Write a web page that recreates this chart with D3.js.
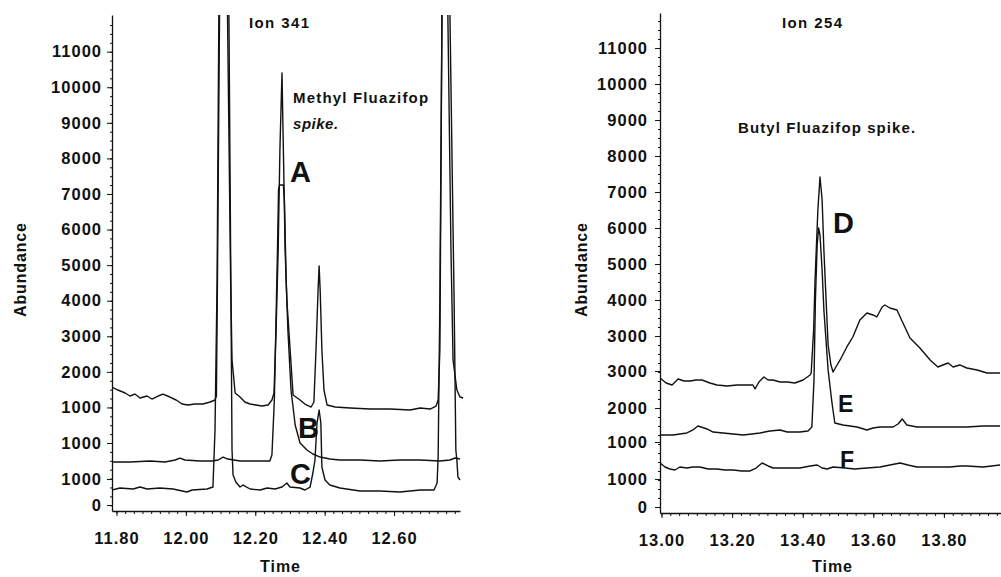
<!DOCTYPE html>
<html>
<head>
<meta charset="utf-8">
<script src="https://cdn.jsdelivr.net/npm/d3@7"></script>
<style>
  body { margin: 0; background: #fff; }
  text { font-family: "Liberation Sans", Arial, sans-serif; fill: #111; }
  .tick text { font-weight: bold; font-size: 16.5px; letter-spacing: 1px; }
  .domain, .tick line { stroke: #111; }
  .trace { fill: none; stroke: #111; stroke-width: 1.4; stroke-linejoin: round; }
</style>
</head>
<body>
<svg id="chart" width="1001" height="577"></svg>
<script>
// Time ticks
var leftTimeTicks = [11.8, 12.0, 12.2, 12.4, 12.6];
var rightTimeTicks = [13.0, 13.2, 13.4, 13.6, 13.8];

// Abundance ticks: the traces are stacked, so the labels repeat
var leftAbundTicks = [-1743, -1012, 0, 1000, 2000, 3000, 4000, 5000, 6000, 7000, 8000, 9000, 10000, 11000];
var leftAbundLabels = ["0", "1000", "1000", "1000", "2000", "3000", "4000", "5000", "6000", "7000", "8000", "9000", "10000", "11000"];
var rightAbundTicks = [-1750, -972, 56, 1000, 2028, 3000, 4000, 5000, 6000, 7000, 8000, 9000, 10000, 11000];
var rightAbundLabels = ["0", "1000", "1000", "2000", "3000", "3000", "4000", "5000", "6000", "7000", "8000", "9000", "10000", "11000"];

// Ion 341 traces [time, abundance]
var traceA = [[11.787,1574],[11.804,1490],[11.825,1406],[11.839,1321],[11.853,1377],[11.868,1265],[11.888,1321],[11.902,1237],[11.920,1321],[11.934,1377],[11.954,1293],[11.972,1209],[11.989,1096],[12.006,1068],[12.026,1096],[12.049,1096],[12.070,1153],[12.084,1209],[12.088,1321],[12.091,4582],[12.097,12031],[12.107,20000],[12.120,12031],[12.129,4582],[12.133,2333],[12.142,1406],[12.156,1293],[12.170,1153],[12.185,1096],[12.202,1068],[12.219,1040],[12.237,1068],[12.248,1209],[12.254,1406],[12.260,3176],[12.266,5425],[12.271,8236],[12.277,10400],[12.281,8236],[12.286,5425],[12.291,4020],[12.309,1349],[12.329,1209],[12.343,1096],[12.361,1012],[12.369,1153],[12.375,2614],[12.381,4301],[12.384,4975],[12.387,4301],[12.392,2614],[12.398,1490],[12.407,1068],[12.430,1012],[12.473,984],[12.531,956],[12.588,956],[12.646,928],[12.675,984],[12.704,956],[12.721,1040],[12.727,1209],[12.732,2614],[12.738,12031],[12.747,20000],[12.755,12031],[12.764,5425],[12.770,2333],[12.781,1490],[12.790,1293],[12.799,1265]];
var traceB = [[11.787,-534],[11.839,-534],[11.897,-506],[11.940,-534],[11.969,-478],[11.983,-422],[11.997,-478],[12.041,-506],[12.075,-506],[12.093,-478],[12.107,-394],[12.121,-450],[12.156,-506],[12.199,-506],[12.242,-506],[12.248,-337],[12.255,1209],[12.261,4020],[12.264,5425],[12.267,7112],[12.270,7252],[12.281,7252],[12.284,6831],[12.289,4582],[12.294,3176],[12.303,1490],[12.315,506],[12.329,0],[12.349,-197],[12.366,-309],[12.387,-394],[12.415,-450],[12.444,-478],[12.502,-478],[12.559,-506],[12.617,-478],[12.675,-478],[12.732,-506],[12.761,-478],[12.776,-422],[12.790,-450]];
var traceC = [[11.787,-1321],[11.810,-1265],[11.848,-1293],[11.868,-1237],[11.888,-1293],[11.925,-1265],[11.963,-1293],[12.003,-1377],[12.018,-1321],[12.061,-1293],[12.078,-1237],[12.084,365],[12.090,4582],[12.095,12031],[12.108,20000],[12.124,12031],[12.130,4020],[12.133,-197],[12.136,-900],[12.144,-1096],[12.156,-1237],[12.165,-1181],[12.185,-1293],[12.214,-1321],[12.234,-1265],[12.257,-1293],[12.277,-1237],[12.291,-1124],[12.300,-1237],[12.329,-1265],[12.343,-1321],[12.358,-1237],[12.366,-843],[12.372,-478],[12.378,562],[12.384,928],[12.389,562],[12.392,-675],[12.401,-1040],[12.415,-1181],[12.444,-1265],[12.502,-1349],[12.559,-1349],[12.617,-1377],[12.675,-1321],[12.715,-1321],[12.724,-1124],[12.727,-394],[12.732,4020],[12.738,12031],[12.748,20000],[12.761,12031],[12.773,4020],[12.778,-197],[12.781,-478],[12.784,-956],[12.790,-1040]];

// Ion 254 traces [time, abundance]
var traceD = [[12.996,1833],[13.013,1695],[13.030,1639],[13.047,1806],[13.064,1750],[13.081,1750],[13.098,1778],[13.115,1778],[13.137,1695],[13.157,1639],[13.186,1611],[13.214,1639],[13.242,1639],[13.259,1639],[13.265,1528],[13.276,1722],[13.290,1861],[13.302,1778],[13.316,1778],[13.336,1722],[13.356,1722],[13.378,1695],[13.401,1778],[13.421,1917],[13.424,1972],[13.431,3167],[13.435,4556],[13.443,6500],[13.449,7417],[13.455,6778],[13.460,5389],[13.465,4278],[13.472,2750],[13.480,2195],[13.486,2000],[13.494,2139],[13.506,2334],[13.525,2695],[13.542,2972],[13.562,3445],[13.582,3639],[13.599,3584],[13.610,3528],[13.625,3806],[13.633,3861],[13.647,3778],[13.667,3722],[13.684,3361],[13.704,2945],[13.732,2667],[13.761,2334],[13.783,2139],[13.797,2195],[13.812,2250],[13.826,2139],[13.845,2195],[13.865,2111],[13.894,2056],[13.922,1972],[13.959,1972]];
var traceE = [[12.996,250],[13.016,250],[13.033,250],[13.052,278],[13.072,306],[13.089,389],[13.103,500],[13.112,472],[13.129,417],[13.146,333],[13.174,306],[13.203,278],[13.231,250],[13.256,278],[13.279,306],[13.307,361],[13.336,389],[13.356,333],[13.392,333],[13.415,361],[13.426,472],[13.432,1778],[13.436,4000],[13.441,5528],[13.445,6000],[13.449,5806],[13.455,4834],[13.460,3722],[13.472,2056],[13.483,1139],[13.491,583],[13.514,528],[13.534,500],[13.554,472],[13.582,389],[13.599,444],[13.619,472],[13.656,472],[13.670,556],[13.682,695],[13.695,528],[13.724,472],[13.769,472],[13.817,472],[13.865,472],[13.911,500],[13.959,500]];
var traceF = [[12.996,-528],[13.010,-639],[13.024,-695],[13.038,-722],[13.052,-639],[13.072,-667],[13.089,-639],[13.109,-639],[13.132,-695],[13.157,-695],[13.180,-722],[13.203,-722],[13.228,-750],[13.251,-750],[13.268,-667],[13.285,-528],[13.302,-611],[13.316,-667],[13.350,-667],[13.392,-667],[13.421,-611],[13.441,-583],[13.455,-667],[13.469,-695],[13.486,-639],[13.520,-667],[13.547,-695],[13.582,-667],[13.619,-639],[13.647,-583],[13.676,-528],[13.698,-583],[13.724,-639],[13.769,-639],[13.817,-639],[13.846,-611],[13.865,-611],[13.911,-639],[13.959,-583]];

// Annotations anchored in data units
var leftNotes = [
  {text: "Methyl Fluazifop", t: 12.309, v: 9557, cls: "note"},
  {text: "spike.", t: 12.309, v: 8827, cls: "note-it"},
  {text: "A", t: 12.300, v: 7337, cls: "big"},
  {text: "B", t: 12.323, v: 141, cls: "big"},
  {text: "C", t: 12.300, v: -1153, cls: "big"}
];
var rightNotes = [
  {text: "Butyl Fluazifop spike.", t: 13.217, v: 8640, cls: "note"},
  {text: "D", t: 13.486, v: 5862, cls: "big"},
  {text: "E", t: 13.500, v: 889, cls: "mid"},
  {text: "F", t: 13.506, v: -667, cls: "mid"}
];

var svg = d3.select("#chart");

var panels = [
  {
    id: "left", title: "Ion 341",
    xDomain: [11.7871, 12.79], xRange: [112, 460],
    yDomain: [-1911, 12031], yRange: [511, 15],
    timeTicks: leftTimeTicks, abundTicks: leftAbundTicks, abundLabels: leftAbundLabels,
    traces: [traceA, traceB, traceC], notes: leftNotes,
    titleX: 279, yTitleX: 20, xTitleX: 280, padY: 5
  },
  {
    id: "right", title: "Ion 254",
    xDomain: [12.99575, 13.96176], xRange: [660, 1001],
    yDomain: [-1917, 11973], yRange: [513, 13],
    timeTicks: rightTimeTicks, abundTicks: rightAbundTicks, abundLabels: rightAbundLabels,
    traces: [traceD, traceE, traceF], notes: rightNotes,
    titleX: 812, yTitleX: 581, xTitleX: 832, padY: 7
  }
];

panels.forEach(function(p) {
  var x = d3.scaleLinear().domain(p.xDomain).range(p.xRange);
  var y = d3.scaleLinear().domain(p.yDomain).range(p.yRange);
  var g = svg.append("g");

  // clip the off-scale peaks at the top of the axis
  svg.append("clipPath").attr("id", "clip-" + p.id)
    .append("rect")
    .attr("x", p.xRange[0]).attr("y", p.yRange[1])
    .attr("width", 1001 - p.xRange[0]).attr("height", p.yRange[0] - p.yRange[1]);

  // minor ticks
  var first = Math.ceil(p.xDomain[0] / 0.025);
  var minorX = d3.range(first, Math.floor(p.xDomain[1] / 0.025) + 1).map(function(k) { return k * 0.025; });
  g.append("g")
    .attr("transform", `translate(0, ${p.yRange[0]})`)
    .call(d3.axisBottom(x).tickValues(minorX).tickSize(3).tickFormat(""))
    .call(function(s) { s.select(".domain").remove(); });

  g.append("g")
    .attr("transform", `translate(${p.xRange[0]}, 0)`)
    .call(d3.axisLeft(y).tickValues(d3.range(-1750, 12000, 250)).tickSize(2).tickFormat(""))
    .call(function(s) { s.select(".domain").remove(); });

  // main axes
  g.append("g")
    .attr("transform", `translate(0, ${p.yRange[0]})`)
    .call(d3.axisBottom(x).tickValues(p.timeTicks).tickFormat(d3.format(".2f"))
      .tickSize(5).tickSizeOuter(0).tickPadding(16))
    .call(function(s) { s.select(".domain").attr("stroke-width", 1.3); });

  g.append("g")
    .attr("transform", `translate(${p.xRange[0]}, 0)`)
    .call(d3.axisLeft(y).tickValues(p.abundTicks).tickFormat(function(d, i) { return p.abundLabels[i]; })
      .tickSize(5).tickSizeOuter(0).tickPadding(p.padY))
    .call(function(s) { s.select(".domain").attr("stroke-width", 1.3); });

  // traces
  var line = d3.line().x(function(d) { return x(d[0]); }).y(function(d) { return y(d[1]); });
  g.append("g").attr("clip-path", `url(#clip-${p.id})`)
    .selectAll("path")
    .data(p.traces)
    .enter()
    .append("path")
    .attr("class", "trace")
    .attr("d", line);

  // titles
  g.append("text")
    .attr("x", p.titleX).attr("y", 28)
    .attr("text-anchor", "middle")
    .style("font-size", "15px").style("font-weight", "bold")
    .attr("textLength", 60)
    .text(p.title);

  g.append("text")
    .attr("transform", `translate(${p.yTitleX + 6}, 270) rotate(-90)`)
    .attr("text-anchor", "middle")
    .style("font-size", "16px").style("font-weight", "bold")
    .attr("textLength", 94)
    .text("Abundance");

  g.append("text")
    .attr("x", p.xTitleX).attr("y", 572)
    .attr("text-anchor", "middle")
    .style("font-size", "16px").style("font-weight", "bold")
    .attr("textLength", 40)
    .text("Time");

  // annotations
  g.selectAll(".ann")
    .data(p.notes)
    .enter()
    .append("text")
    .attr("x", function(d) { return x(d.t); })
    .attr("y", function(d) { return y(d.v); })
    .style("font-size", function(d) { return d.cls === "big" ? "29px" : d.cls === "mid" ? "23px" : "15px"; })
    .style("font-weight", "bold")
    .style("font-style", function(d) { return d.cls === "note-it" ? "italic" : "normal"; })
    .attr("textLength", function(d) {
      return d.text === "Methyl Fluazifop" ? 135 : d.text === "Butyl Fluazifop spike." ? 177 : d.text === "spike." ? 45 : null;
    })
    .text(function(d) { return d.text; });
});
</script>
</body>
</html>
